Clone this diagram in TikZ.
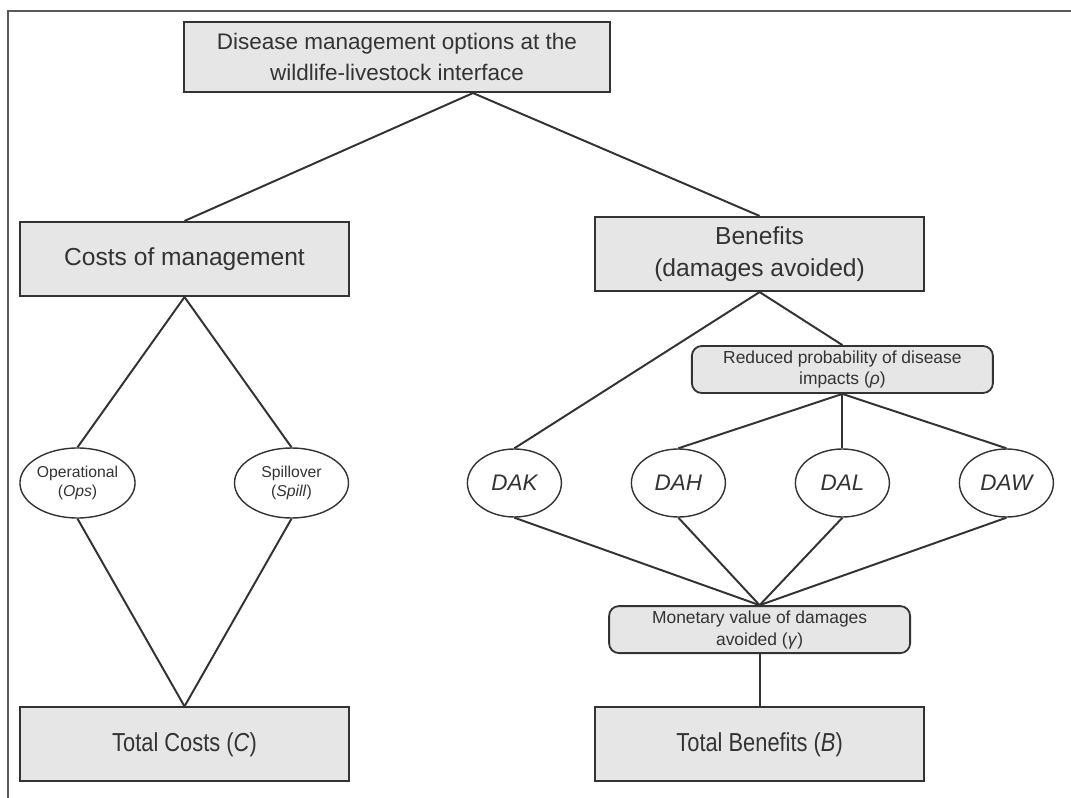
\documentclass[tikz,border=0pt]{standalone}
\usepackage{fontspec}
\setmainfont{Liberation Sans}
\newfontfamily\narrowsans[FakeStretch=0.84]{Liberation Sans}
\usetikzlibrary{positioning,shapes.geometric}
\definecolor{boxfill}{HTML}{E6E6E6}
\definecolor{inkgray}{HTML}{333333}

\begin{document}
\begin{tikzpicture}[on grid,auto,
   bigbox/.style={draw=inkgray,line width=1.5pt,fill=boxfill,text=inkgray,
      minimum width=8.225cm,minimum height=1.85cm,align=center,
      font=\fontsize{17.5}{23}\selectfont},
   totalbox/.style={bigbox,font=\narrowsans\fontsize{18.5}{22}\selectfont},
   roundbox/.style={draw=inkgray,line width=1.3pt,fill=boxfill,text=inkgray,
      rounded corners=7pt,minimum width=7.525cm,minimum height=1.175cm,
      inner sep=1pt,align=center,font=\fontsize{12.4}{15.5}\selectfont},
   oval/.style={ellipse,draw=inkgray,line width=1pt,fill=white,text=inkgray,
      minimum width=2.85cm,minimum height=1.75cm,inner sep=0pt,align=center,
      font=\fontsize{11.2}{14}\selectfont},
   dmg/.style={oval,minimum width=2.35cm,minimum height=1.7cm,
      font=\fontsize{16}{18}\selectfont\itshape},
   every edge/.style={draw=inkgray,line width=1.4pt}]
   \useasboundingbox (0,0) rectangle (26.775,-19.95);
   \draw[gray!70!black,line width=1pt] (26.775,-0.275) -- (0.2,-0.275) -- (0.2,-19.95);

   \node[bigbox,minimum width=10.65cm,minimum height=1.75cm,
      font=\fontsize{16}{22.5}\selectfont] (top) at (9.925,-1.425)
      {Disease management options at the\\wildlife-livestock interface};
   \node[bigbox] (costs) [below left=5.05cm and 5.3125cm of top] {Costs of management};
   \node[bigbox] (ben) [below right=4.925cm and 9.065cm of top] {Benefits\\(damages avoided)};

   \node[oval] (ops) [below left=5.6cm and 2.675cm of costs] {Operational\\(\textit{Ops})};
   \node[oval] (spill) [below right=5.6cm and 2.675cm of costs] {Spillover\\(\textit{Spill})};
   \node[totalbox] (totc) [below=12.135cm of costs] {Total Costs (\textit{C})};

   \node[roundbox] (red) [below right=2.8875cm and 2.07cm of ben]
      {Reduced probability of disease\\impacts (\textit{ρ})};
   \node[dmg] (dal) [below=2.8375cm of red] {DAL};
   \node[dmg] (dah) [left=4.1cm of dal] {DAH};
   \node[dmg] (dak) [left=4.1cm of dah] {DAK};
   \node[dmg] (daw) [right=4.1cm of dal] {DAW};
   \node[roundbox] (mon) [below=9.39cm of ben]
      {Monetary value of damages\\avoided (\textit{γ})};
   \node[totalbox] (totb) [below=12.26cm of ben] {Total Benefits (\textit{B})};

   \coordinate (fork) at ([xshift=1.9cm]top.south);
   \path (fork) edge (costs.north)
                edge (ben.north)
         (costs.south) edge (ops.north)
                       edge (spill.north)
         (ops.south) edge (totc.north)
         (spill.south) edge (totc.north)
         (ben.south) edge (dak.north)
                     edge (red.north)
         (red.south) edge (dah.north)
                     edge (dal.north)
                     edge (daw.north)
         (dak.south) edge (mon.north)
         (dah.south) edge (mon.north)
         (dal.south) edge (mon.north)
         (daw.south) edge (mon.north)
         (mon.south) edge (totb.north);

\end{tikzpicture}
\end{document}
